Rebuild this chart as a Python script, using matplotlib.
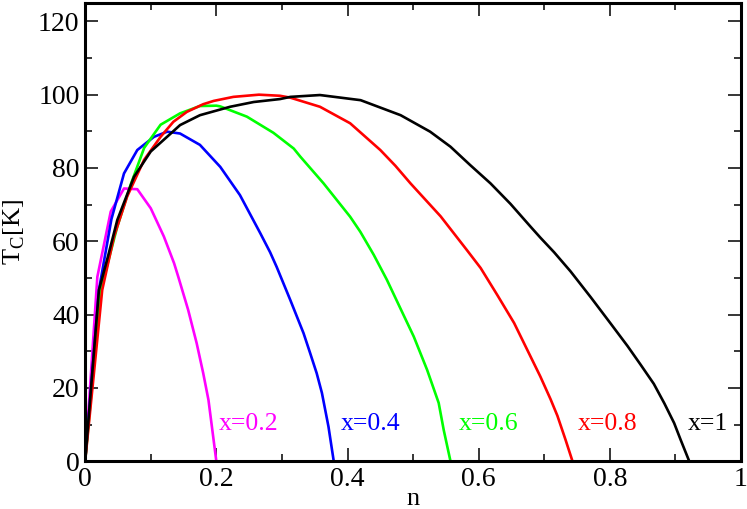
import matplotlib
matplotlib.use("Agg")
import matplotlib.pyplot as plt
from matplotlib.ticker import MultipleLocator, FormatStrFormatter

# Tc(n) for each x
n_x1 = [0, 0.021, 0.035, 0.049, 0.0745, 0.1, 0.1305, 0.1447, 0.166, 0.175, 0.221,
        0.257, 0.297, 0.313, 0.358, 0.42, 0.481, 0.526, 0.557, 0.587, 0.618,
        0.6485, 0.679, 0.694, 0.715, 0.74, 0.771, 0.801, 0.827, 0.847, 0.867,
        0.883, 0.898, 0.908, 0.921]
tc_x1 = [0, 46.7, 56, 65.8, 77.6, 84.5, 89.4, 91.7, 93.6, 94.4, 96.7,
         98, 98.8, 99.4, 99.9, 98.5, 94.4, 89.9, 85.8, 80.8, 75.8,
         70.2, 64, 61, 57, 51.8, 44.7, 37.6, 31.4, 26.3, 21.1,
         15.8, 10.4, 5.8, 0]

n_x08 = [0, 0.026, 0.044, 0.064, 0.0898, 0.115, 0.1345, 0.155, 0.18, 0.196, 0.226,
         0.265, 0.297, 0.3125, 0.358, 0.404, 0.45, 0.473, 0.496, 0.542, 0.582,
         0.603, 0.6285, 0.654, 0.674, 0.694, 0.7096, 0.72, 0.7325, 0.743]
tc_x08 = [0, 46.7, 61.3, 72.2, 82.2, 88.5, 92.6, 95.3, 97.4, 98.3, 99.4,
          100, 99.7, 99.2, 96.7, 92.2, 84.9, 80.6, 75.8, 66.8, 57.6,
          52.7, 45.3, 37.7, 30.4, 23.1, 16.9, 12.4, 5.8, 0]

n_x06 = [0, 0.0237, 0.049, 0.0695, 0.09, 0.115, 0.1447, 0.175, 0.2, 0.206, 0.2466,
         0.287, 0.318, 0.328, 0.3635, 0.404, 0.4195, 0.44, 0.46, 0.4806, 0.501,
         0.5214, 0.539, 0.5467, 0.557]
tc_x06 = [0, 46.7, 64, 75.5, 85.5, 91.8, 94.9, 96.9, 97, 96.8, 94,
          89.6, 85.3, 83.1, 75.8, 66.7, 62.6, 56.3, 49.5, 41.7, 34,
          24.9, 15.9, 8.5, 0]

n_x04 = [0, 0.021, 0.04, 0.0592, 0.0795, 0.105, 0.125, 0.1447, 0.175, 0.206, 0.236,
         0.267, 0.282, 0.292, 0.3127, 0.333, 0.343, 0.353, 0.361, 0.371, 0.379]
tc_x04 = [0, 46.7, 66, 78.5, 84.9, 88.5, 89.9, 89.4, 86.3, 80.3, 72.6,
          62.2, 57, 53, 44, 34.9, 29.5, 24, 18.6, 9.4, 0]

n_x02 = [0, 0.0186, 0.039, 0.0592, 0.0795, 0.1, 0.12, 0.1356, 0.142, 0.157, 0.17,
         0.18, 0.188, 0.2]
tc_x02 = [0, 50.3, 68.1, 74.4, 74.2, 69, 61.3, 54, 50.3, 41.3, 32.2,
          24, 16.7, 0]

curves = [
    (n_x02, tc_x02, "#ff00ff", "x=0.2", 0.203),
    (n_x04, tc_x04, "#0000ff", "x=0.4", 0.389),
    (n_x06, tc_x06, "#00ff00", "x=0.6", 0.570),
    (n_x08, tc_x08, "#ff0000", "x=0.8", 0.751),
    (n_x1, tc_x1, "black", "x=1", 0.919),
]

plt.rcParams["font.family"] = ["Liberation Serif", "DejaVu Serif"]
plt.rcParams["mathtext.fontset"] = "custom"
plt.rcParams["mathtext.rm"] = "Liberation Serif"

fig = plt.figure(figsize=(7.47, 5.09), dpi=100)
ax = fig.add_axes([0.114, 0.094, 0.878, 0.900])

for n, tc, col, lab, xt in curves:
    ax.plot(n, tc, color=col, lw=1.9, solid_joinstyle="round")
    ax.text(xt, 8.5, lab, color=col, fontsize=18.5, va="baseline", ha="left")

ax.set_xlim(0, 1)
ax.set_ylim(0, 125)
ax.xaxis.set_major_locator(MultipleLocator(0.2))
ax.xaxis.set_minor_locator(MultipleLocator(0.1))
ax.yaxis.set_major_locator(MultipleLocator(20))
ax.yaxis.set_minor_locator(MultipleLocator(10))
ax.xaxis.set_major_formatter(FormatStrFormatter("%g"))
ax.yaxis.set_major_formatter(FormatStrFormatter("%g"))

ax.tick_params(which="both", direction="in", top=True, right=True, width=1.1)
ax.tick_params(which="major", length=9.5, labelsize=20, pad=4)
ax.tick_params(which="minor", length=5)
ax.tick_params(axis="x", which="major", pad=4)
for s in ax.spines.values():
    s.set_linewidth(2.2)

ax.set_xlabel("n", fontsize=19, labelpad=-3)
ax.set_ylabel(r"T$_\mathrm{C}$[K]", fontsize=19, labelpad=8)

fig.savefig("out.png", dpi=100)
